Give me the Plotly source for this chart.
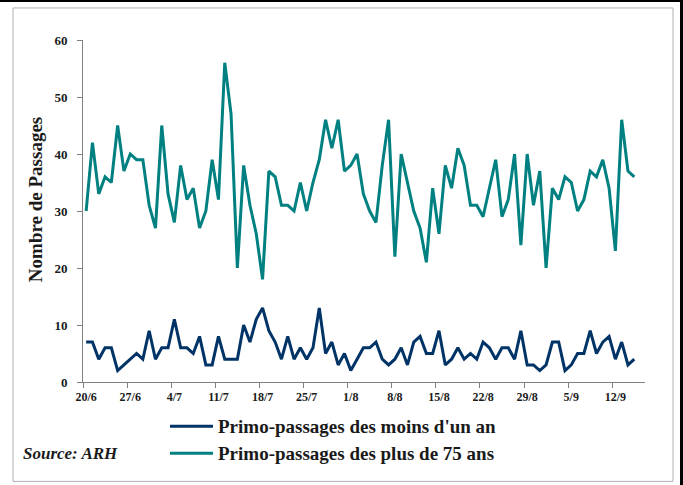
import plotly.graph_objects as go

# ---- data ----
series_names = ["Primo-passages des moins d'un an", "Primo-passages des plus de 75 ans"]
series_colors = ["#003366", "#008080"]

moins_un_an = [7, 7, 4, 6, 6, 2, 3, 4, 5, 4, 9, 4, 6, 6, 11,
               6, 6, 5, 8, 3, 3, 8, 4, 4, 4, 10, 7, 11, 13, 9, 7,
               4, 8, 4, 6, 4, 6, 13, 5, 7, 3, 5, 2, 4, 6, 6, 7,
               4, 3, 4, 6, 3, 7, 8, 5, 5, 9, 3, 4, 6,
               4, 5, 4, 7, 6, 4, 6, 6, 4, 9, 3, 3, 2, 3, 7,
               7, 2, 3, 5, 5, 9, 5, 7, 8, 4, 7, 3, 4]

plus_75_ans = [30, 42, 33, 36, 35, 45, 37, 40, 39, 39, 31, 27, 45, 33,
               28, 38, 32, 34, 27, 30, 39, 32, 56, 47, 20, 38, 31, 26, 18, 37, 36,
               31, 31, 30, 35, 30, 35, 39, 46, 41, 46, 37, 38, 40,
               33, 30, 28, 38, 46, 22, 40, 35, 30, 27, 21, 34, 26, 38, 34, 41,
               38, 31, 31, 29, 34, 39, 29, 32, 40, 24, 40, 31, 37, 20, 34,
               32, 36, 35, 30, 32, 37, 36, 39, 34, 23, 46, 37, 36]

tick_labels = ["20/6", "27/6", "4/7", "11/7", "18/7", "25/7", "1/8",
               "8/8", "15/8", "22/8", "29/8", "5/9", "12/9"]
y_title = "Nombre de Passages"
source_text = "Source: ARH"

days = list(range(len(plus_75_ans)))
label_pos = [7 * k for k in range(len(tick_labels))]
tick_pos = [7 * k - 0.5 for k in range(len(tick_labels))]

FONT = "Liberation Serif"
TXT = "#1a1a1a"
AX = "#808080"

fig = go.Figure()
for vals, name, col in [(moins_un_an, series_names[0], series_colors[0]),
                        (plus_75_ans, series_names[1], series_colors[1])]:
    fig.add_trace(go.Scatter(x=days, y=vals, mode="lines", name=name,
                             line=dict(color=col, width=3), showlegend=False,
                             hoverinfo="skip"))

W, H = 683, 485
ml, mr, mt, mb = 83, 38, 40, 103.3
pw = W - ml - mr
ph = H - mt - mb


def px(x):
    return (x - ml) / pw


def py(y):
    return (H - mb - y) / ph


shapes = [
    # outer gray frame
    dict(type="rect", xref="paper", yref="paper",
         x0=px(13), x1=px(673), y0=py(481), y1=py(8),
         line=dict(color="#b0b0b0", width=1), layer="below"),
    # black top edge
    dict(type="rect", xref="paper", yref="paper",
         x0=px(0), x1=px(683), y0=py(2), y1=py(0),
         line=dict(width=0), fillcolor="black"),
    # black right edge
    dict(type="rect", xref="paper", yref="paper",
         x0=px(680), x1=px(683), y0=py(485), y1=py(0),
         line=dict(width=0), fillcolor="black"),
]

annotations = []
legend_y = [426, 453]
for name, col, ly in zip(series_names, series_colors, legend_y):
    shapes.append(dict(type="line", xref="paper", yref="paper",
                       x0=px(170), x1=px(213), y0=py(ly), y1=py(ly),
                       line=dict(color=col, width=3)))
    annotations.append(dict(xref="paper", yref="paper", x=px(216), y=py(ly),
                            xanchor="left", yanchor="middle", showarrow=False,
                            text="<b>" + name + "</b>",
                            font=dict(family=FONT, size=19, color=TXT)))

annotations.append(dict(xref="paper", yref="paper", x=px(21), y=py(453),
                        xanchor="left", yanchor="middle", showarrow=False,
                        text="<b><i>" + source_text + "</i></b>",
                        font=dict(family=FONT, size=17, color=TXT)))
annotations.append(dict(xref="paper", yref="paper", x=px(35), y=py(200),
                        xanchor="center", yanchor="middle", showarrow=False,
                        textangle=-90, text="<b>" + y_title + "</b>",
                        font=dict(family=FONT, size=19, color=TXT)))

fig.update_layout(
    width=W, height=H,
    margin=dict(l=ml, r=mr, t=mt, b=mb),
    paper_bgcolor="white", plot_bgcolor="white",
    shapes=shapes, annotations=annotations,
    font=dict(family=FONT, color=TXT),
    xaxis=dict(range=[-0.5, 88.7], showgrid=False, zeroline=False,
               showline=True, linecolor=AX, linewidth=1,
               tickmode="array", tickvals=label_pos, ticktext=tick_labels,
               ticks="", ticklabelstandoff=4,
               tickfont=dict(family=FONT, size=12, color=TXT, weight="bold"),
               minor=dict(tickmode="array", tickvals=tick_pos, ticks="outside",
                          ticklen=5, tickcolor=AX, tickwidth=1, showgrid=False)),
    yaxis=dict(range=[0, 60], dtick=10, showgrid=False, zeroline=False,
               showline=True, linecolor=AX, linewidth=1,
               ticks="outside", ticklen=5, tickcolor=AX, ticklabelstandoff=7,
               tickfont=dict(family=FONT, size=13, color=TXT, weight="bold")),
)

fig.write_html("out.html", config={"displayModeBar": False},
               post_script="document.body.style.margin='0';document.body.style.padding='0';")
